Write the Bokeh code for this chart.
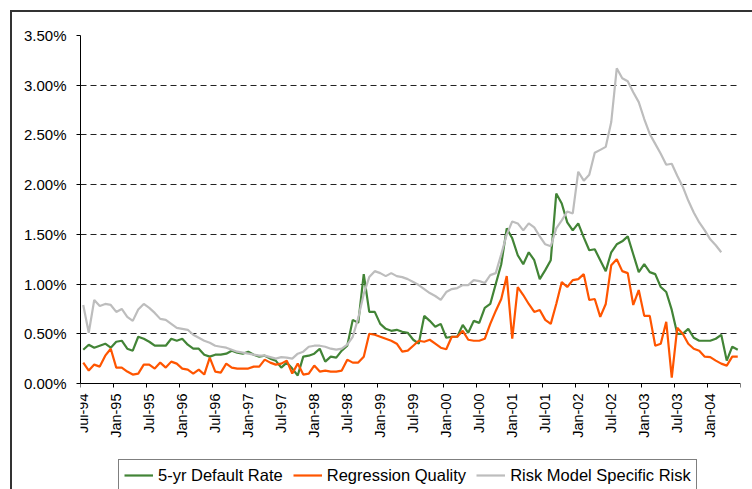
import math
import numpy as np
from bokeh.plotting import figure
from bokeh.models import (ColumnDataSource, FixedTicker, NumeralTickFormatter, Range1d,
                          Legend, LegendItem)
from bokeh.embed import file_html
from bokeh.resources import INLINE

# ---- data (values in %) -------------------------------------------------
tick_labels = ["Jul-94", "Jan-95", "Jul-95", "Jan-96", "Jul-96", "Jan-97", "Jul-97",
               "Jan-98", "Jul-98", "Jan-99", "Jul-99", "Jan-00", "Jul-00", "Jan-01",
               "Jul-01", "Jan-02", "Jul-02", "Jan-03", "Jul-03", "Jan-04"]
months_per_tick = 6

default_rate = [
    0.34, 0.39, 0.36, 0.38, 0.40, 0.36, 0.42, 0.43, 0.35, 0.33,
    0.47, 0.45, 0.42, 0.38, 0.38, 0.38, 0.45, 0.43, 0.45, 0.39,
    0.35, 0.35, 0.29, 0.27, 0.29, 0.29, 0.30, 0.33, 0.31, 0.30,
    0.32, 0.29, 0.27, 0.28, 0.25, 0.23, 0.16, 0.21, 0.15, 0.08,
    0.27, 0.28, 0.30, 0.35, 0.22, 0.27, 0.26, 0.33, 0.38, 0.64,
    0.61, 1.10, 0.72, 0.72, 0.60, 0.55, 0.53, 0.54, 0.52, 0.51,
    0.44, 0.40, 0.68, 0.63, 0.57, 0.60, 0.46, 0.47, 0.47, 0.59,
    0.51, 0.63, 0.61, 0.76, 0.80, 1.00, 1.20, 1.56, 1.46, 1.29,
    1.20, 1.32, 1.24, 1.05, 1.14, 1.24, 1.91, 1.81, 1.62, 1.54,
    1.61, 1.47, 1.34, 1.35, 1.24, 1.13, 1.32, 1.40, 1.43, 1.48,
    1.30, 1.12, 1.20, 1.12, 1.10, 0.97, 0.92, 0.74, 0.50, 0.50,
    0.55, 0.46, 0.43, 0.43, 0.43, 0.45, 0.49, 0.23, 0.37, 0.34,
]

regression_quality = [
    0.21, 0.13, 0.19, 0.17, 0.28, 0.35, 0.16, 0.16, 0.12, 0.09,
    0.10, 0.19, 0.19, 0.15, 0.21, 0.16, 0.22, 0.20, 0.15, 0.14,
    0.10, 0.14, 0.09, 0.26, 0.12, 0.11, 0.20, 0.16, 0.15, 0.15,
    0.15, 0.17, 0.17, 0.24, 0.21, 0.19, 0.20, 0.23, 0.10, 0.20,
    0.09, 0.10, 0.18, 0.12, 0.13, 0.12, 0.12, 0.13, 0.24, 0.21,
    0.21, 0.27, 0.50, 0.49, 0.47, 0.45, 0.43, 0.40, 0.32, 0.33,
    0.38, 0.43, 0.42, 0.44, 0.40, 0.36, 0.345, 0.47, 0.47, 0.53,
    0.44, 0.43, 0.43, 0.45, 0.60, 0.73, 0.85, 1.08, 0.45, 0.97,
    0.89, 0.80, 0.72, 0.74, 0.64, 0.60, 0.80, 1.02, 0.97, 1.04,
    1.05, 1.10, 0.84, 0.85, 0.67, 0.80, 1.19, 1.25, 1.13, 1.11,
    0.79, 0.94, 0.68, 0.68, 0.38, 0.40, 0.62, 0.06, 0.56, 0.50,
    0.40, 0.35, 0.33, 0.27, 0.265, 0.23, 0.20, 0.18, 0.27, 0.27,
]

specific_risk = [
    0.79, 0.51, 0.84, 0.78, 0.80, 0.79, 0.72, 0.75, 0.67, 0.63,
    0.745, 0.80, 0.76, 0.71, 0.65, 0.64, 0.60, 0.56, 0.55, 0.54,
    0.49, 0.46, 0.43, 0.41, 0.38, 0.37, 0.36, 0.34, 0.32, 0.31,
    0.30, 0.29, 0.28, 0.28, 0.265, 0.25, 0.265, 0.26, 0.25, 0.30,
    0.32, 0.37, 0.38, 0.38, 0.37, 0.35, 0.34, 0.35, 0.39, 0.47,
    0.66, 0.90, 1.07, 1.13, 1.11, 1.08, 1.11, 1.08, 1.07, 1.05,
    1.02, 0.99, 0.95, 0.91, 0.88, 0.84, 0.92, 0.95, 0.96, 0.99,
    0.99, 1.04, 1.03, 1.01, 1.09, 1.11, 1.30, 1.50, 1.63, 1.61,
    1.54, 1.61, 1.57, 1.48, 1.40, 1.38, 1.56, 1.64, 1.73, 1.71,
    2.13, 2.04, 2.10, 2.32, 2.35, 2.38, 2.63, 3.17, 3.07, 3.04,
    2.93, 2.83, 2.66, 2.51, 2.41, 2.31, 2.20, 2.21, 2.09, 1.98,
    1.84, 1.72, 1.62, 1.54, 1.45, 1.39, 1.32,
]

series_names = ["5-yr Default Rate", "Regression Quality", "Risk Model Specific Risk"]
series_colors = ["#428436", "#FF5500", "#BDBDBD"]

# ---- figure -------------------------------------------------------------
FONT = "Liberation Sans"
n_months = len(default_rate)
Y_TOP = 0.035
# the frame reaches the bottom of the canvas so that the legend below the
# x axis lies inside it; 0% sits 106 px above the canvas bottom (348 px = 3.5%)
Y_BOTTOM = -Y_TOP * 106.0 / 348.0

p = figure(width=752, height=489, output_backend="svg", toolbar_location=None,
           x_range=Range1d(-0.5, n_months - 0.5), y_range=Range1d(Y_BOTTOM, Y_TOP),
           min_border_left=80, min_border_right=12, min_border_top=35,
           min_border_bottom=0)
p.outline_line_color = None
p.background_fill_color = "white"
p.border_fill_alpha = 0.0
# chart-area border (only its top and left edges are visible in the reference)
p.styles = {
    "background": ("linear-gradient(#333333, #333333) 10px 10px / 2px 100% no-repeat, "
                   "linear-gradient(#333333, #333333) 10px 10px / 100% 2px no-repeat, white"),
}

renderers = []
for vals, color in zip([default_rate, regression_quality, specific_risk], series_colors):
    src = ColumnDataSource(dict(x=np.arange(len(vals)), y=np.array(vals) / 100.0))
    r = p.line("x", "y", source=src, line_color=color, line_width=2.2)
    renderers.append(r)

# x axis drawn at 0%: labels at category centres, ticks at category boundaries
major = [k * months_per_tick for k in range(len(tick_labels))]
minor = [k * months_per_tick - 0.5 for k in range(len(tick_labels) + 1)]
xax = p.xaxis[0]
xax.fixed_location = 0
xax.ticker = FixedTicker(ticks=major, minor_ticks=minor)
xax.major_label_overrides = {m: lab for m, lab in zip(major, tick_labels)}
xax.major_label_orientation = math.pi / 2
xax.major_tick_out = 4
xax.major_tick_in = 0
xax.major_tick_line_color = None
xax.minor_tick_line_color = "black"
xax.minor_tick_out = 4
xax.minor_tick_in = 0
xax.major_label_standoff = 6
p.xgrid.grid_line_color = None

yax = p.yaxis[0]
yax.bounds = (0, Y_TOP)
yax.ticker = FixedTicker(ticks=[k * 0.005 for k in range(8)])
yax.formatter = NumeralTickFormatter(format="0.00%")
yax.minor_tick_line_color = None
yax.major_tick_out = 4
yax.major_tick_in = 0
yax.major_tick_line_color = "black"
yax.major_label_standoff = 10
p.ygrid.grid_line_color = "#222222"
p.ygrid.grid_line_dash = "6 4"
p.ygrid.grid_line_width = 1

for ax, size in ((xax, "14.5px"), (yax, "15px")):
    ax.axis_line_color = "black"
    ax.axis_line_width = 1
    ax.major_label_text_font = FONT
    ax.major_label_text_font_size = size
    ax.major_label_text_color = "black"

legend = Legend(
    items=[LegendItem(label=n, renderers=[r]) for n, r in zip(series_names, renderers)],
    orientation="horizontal", location=(38, -2),
    label_text_font=FONT, label_text_font_size="16.5px", label_text_color="black",
    glyph_width=29, glyph_height=20, label_height=20, label_standoff=5,
    spacing=10, padding=5, margin=0,
    border_line_color="black", border_line_width=1, background_fill_color="white",
    background_fill_alpha=1.0,
)
p.add_layout(legend, "center")

open("out.html", "w").write(file_html(p, INLINE))
